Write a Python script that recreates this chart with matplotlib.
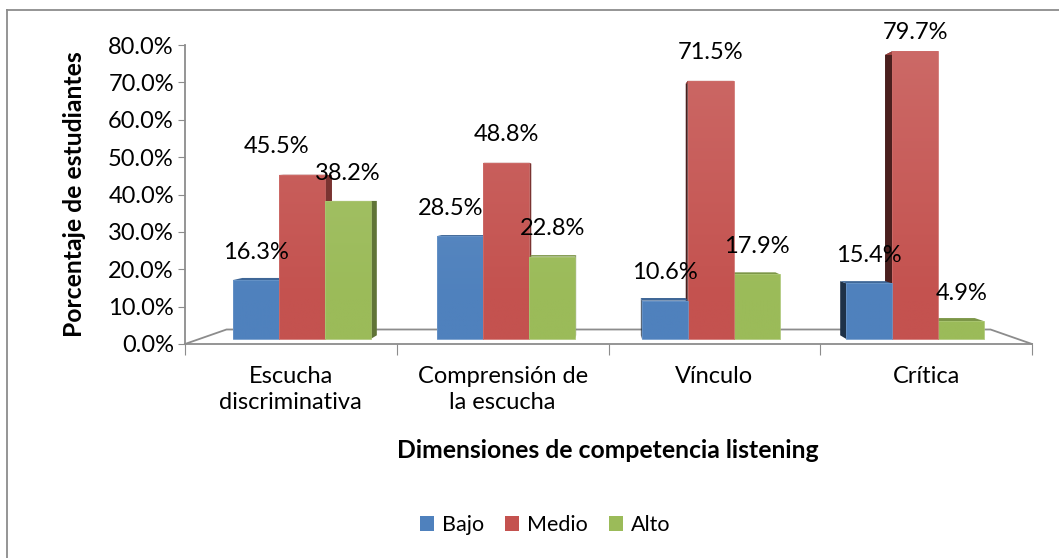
import matplotlib.pyplot as plt
import numpy as np
from matplotlib.colors import to_rgb
from matplotlib.lines import Line2D
from matplotlib.patches import Patch, Polygon

plt.rcParams['font.family'] = ['Lato', 'DejaVu Sans']

# data
categories = ["Escucha\ndiscriminativa", "Comprensión de\nla escucha", "Vínculo", "Crítica"]
series = ["Bajo", "Medio", "Alto"]
bajo = [0.163, 0.285, 0.106, 0.154]
medio = [0.455, 0.488, 0.715, 0.797]
alto = [0.382, 0.228, 0.179, 0.049]
yticks = [0.0, 0.1, 0.2, 0.3, 0.4, 0.5, 0.6, 0.7, 0.8]

colors = ["#4F81BD", "#C4524F", "#9BBB59"]

# simple perspective: points move toward (VX, VY) as depth z goes 0 -> 1
VX, VY = 2.0, 0.396
SHRINK = 0.098
Z_FRONT, Z_BACK = 0.35, 0.60
BAR_W = 0.225

# label nudges in pixels (dx, dy down), keyed by (series, category)
nudge = {(1, 0): (-25, 0), (0, 1): (-10, 0), (1, 3): (0, 9)}


def proj(x, y, z):
    s = 1.0 - SHRINK * z
    return VX + (x - VX) * s, VY + (y - VY) * s


def shade(c, f):
    r, g, b = to_rgb(c)
    if f < 1:
        return (r * f, g * f, b * f)
    return (r + (1 - r) * (f - 1), g + (1 - g) * (f - 1), b + (1 - b) * (f - 1))


W, H = 1059, 558
fig = plt.figure(figsize=(W / 100, H / 100), dpi=100)
ax = fig.add_axes([185 / W, 1 - 344 / H, (1032 - 185) / W, (344 - 45) / H])

grid_c = "#8C8C8C"

# floor outline
fl = [proj(0, 0, 0), proj(0, 0, 1), proj(4, 0, 1), proj(4, 0, 0)]
ax.plot([p[0] for p in fl], [p[1] for p in fl], color=grid_c, lw=1.3,
        zorder=1, clip_on=False)

values = [bajo, medio, alto]
for ci in range(len(categories)):
    cx = ci + 0.5
    for si, vals in enumerate(values):
        v = vals[ci]
        x0 = cx + (si - 1.5) * BAR_W
        x1 = x0 + BAR_W
        xm = (x0 + x1) / 2
        col = colors[si]
        zo = 10 - abs(xm - VX) * 2

        # side face (the one facing the vanishing point)
        xs = x1 if xm < VX else x0
        side = [proj(xs, 0, Z_FRONT), proj(xs, v, Z_FRONT),
                proj(xs, v, Z_BACK), proj(xs, 0, Z_BACK)]
        fac = 0.62 if xm < VX else 0.38
        ax.add_patch(Polygon(side, closed=True, fc=shade(col, fac), ec='none',
                             zorder=zo))
        # top face
        top = [proj(x0, v, Z_FRONT), proj(x1, v, Z_FRONT),
               proj(x1, v, Z_BACK), proj(x0, v, Z_BACK)]
        ax.add_patch(Polygon(top, closed=True, fc=shade(col, 0.8), ec='none',
                             zorder=zo))
        # front face with a soft vertical gradient (lighter higher up)
        front = [proj(x0, 0, Z_FRONT), proj(x1, 0, Z_FRONT),
                 proj(x1, v, Z_FRONT), proj(x0, v, Z_FRONT)]
        poly = Polygon(front, closed=True, fc='none', ec=shade(col, 1.15),
                       lw=0.6, zorder=zo + 0.2)
        ax.add_patch(poly)
        fx0, fy0 = front[0]
        fx1, fy1 = front[2]
        t = np.linspace(fy1 / 0.8, fy0 / 0.8, 64)[:, None]
        base = np.array(to_rgb(col))
        img = base + (1 - base) * 0.16 * np.clip(t - 0.15, 0, 1)
        img = np.repeat(img[:, None, :], 2, axis=1)
        im = ax.imshow(img, extent=(fx0, fx1, fy0, fy1), aspect='auto',
                       origin='upper', zorder=zo + 0.1, interpolation='bilinear')
        im.set_clip_path(poly)

        # data label
        lx, ly = proj(xm, v, Z_FRONT)
        dx, dy = nudge.get((si, ci), (0, 0))
        ax.annotate(f"{v * 100:.1f}%", (lx, ly), xytext=(dx, 28 - dy),
                    textcoords='offset pixels', ha='center', va='center',
                    fontsize=17, color='black', zorder=20,
                    annotation_clip=False)

ax.set_xlim(0, 4)
ax.set_ylim(0, 0.8)

# axes styling
for sp in ['top', 'right']:
    ax.spines[sp].set_visible(False)
ax.spines['left'].set_color(grid_c)
ax.spines['bottom'].set_color(grid_c)
ax.spines['left'].set_linewidth(1.3)
ax.spines['bottom'].set_linewidth(1.3)
ax.set_yticks(yticks)
ax.set_yticklabels([f"{t * 100:.1f}%" for t in yticks], fontsize=17)
ax.tick_params(axis='y', direction='out', length=5, color=grid_c, pad=3)
ax.set_xticks(np.arange(0, 5))
ax.set_xticklabels([])
ax.tick_params(axis='x', which='major', direction='out', length=8, color=grid_c)
ax.set_xticks(np.arange(len(categories)) + 0.5, minor=True)
ax.set_xticklabels(categories, minor=True, fontsize=17, linespacing=1.3)
ax.tick_params(axis='x', which='minor', length=0, pad=16)
ax.patch.set_alpha(0)

fig.text(75 / W, 1 - 194 / H, "Porcentaje de estudiantes", rotation=90,
         ha='center', va='center', fontsize=17.8, fontweight='bold')
fig.text(608 / W, 1 - 450 / H, "Dimensiones de competencia listening",
         ha='center', va='center', fontsize=17.8, fontweight='bold')

handles = [Patch(fc=c, ec='none') for c in colors]
fig.legend(handles, series, loc='center', bbox_to_anchor=(545 / W, 1 - 525 / H),
           ncol=3, frameon=False, fontsize=15.5, handlelength=0.65,
           handleheight=0.65, handletextpad=0.35, columnspacing=1.0)

# outer chart border (only left and top edges fall inside the picture)
fig.add_artist(Line2D([7 / W, 7 / W], [0, 1 - 10 / H], color="#8C8C8C",
                      lw=1.3, transform=fig.transFigure))
fig.add_artist(Line2D([7 / W, 1], [1 - 10 / H, 1 - 10 / H], color="#8C8C8C",
                      lw=1.3, transform=fig.transFigure))

fig.savefig("out.png", dpi=100)
